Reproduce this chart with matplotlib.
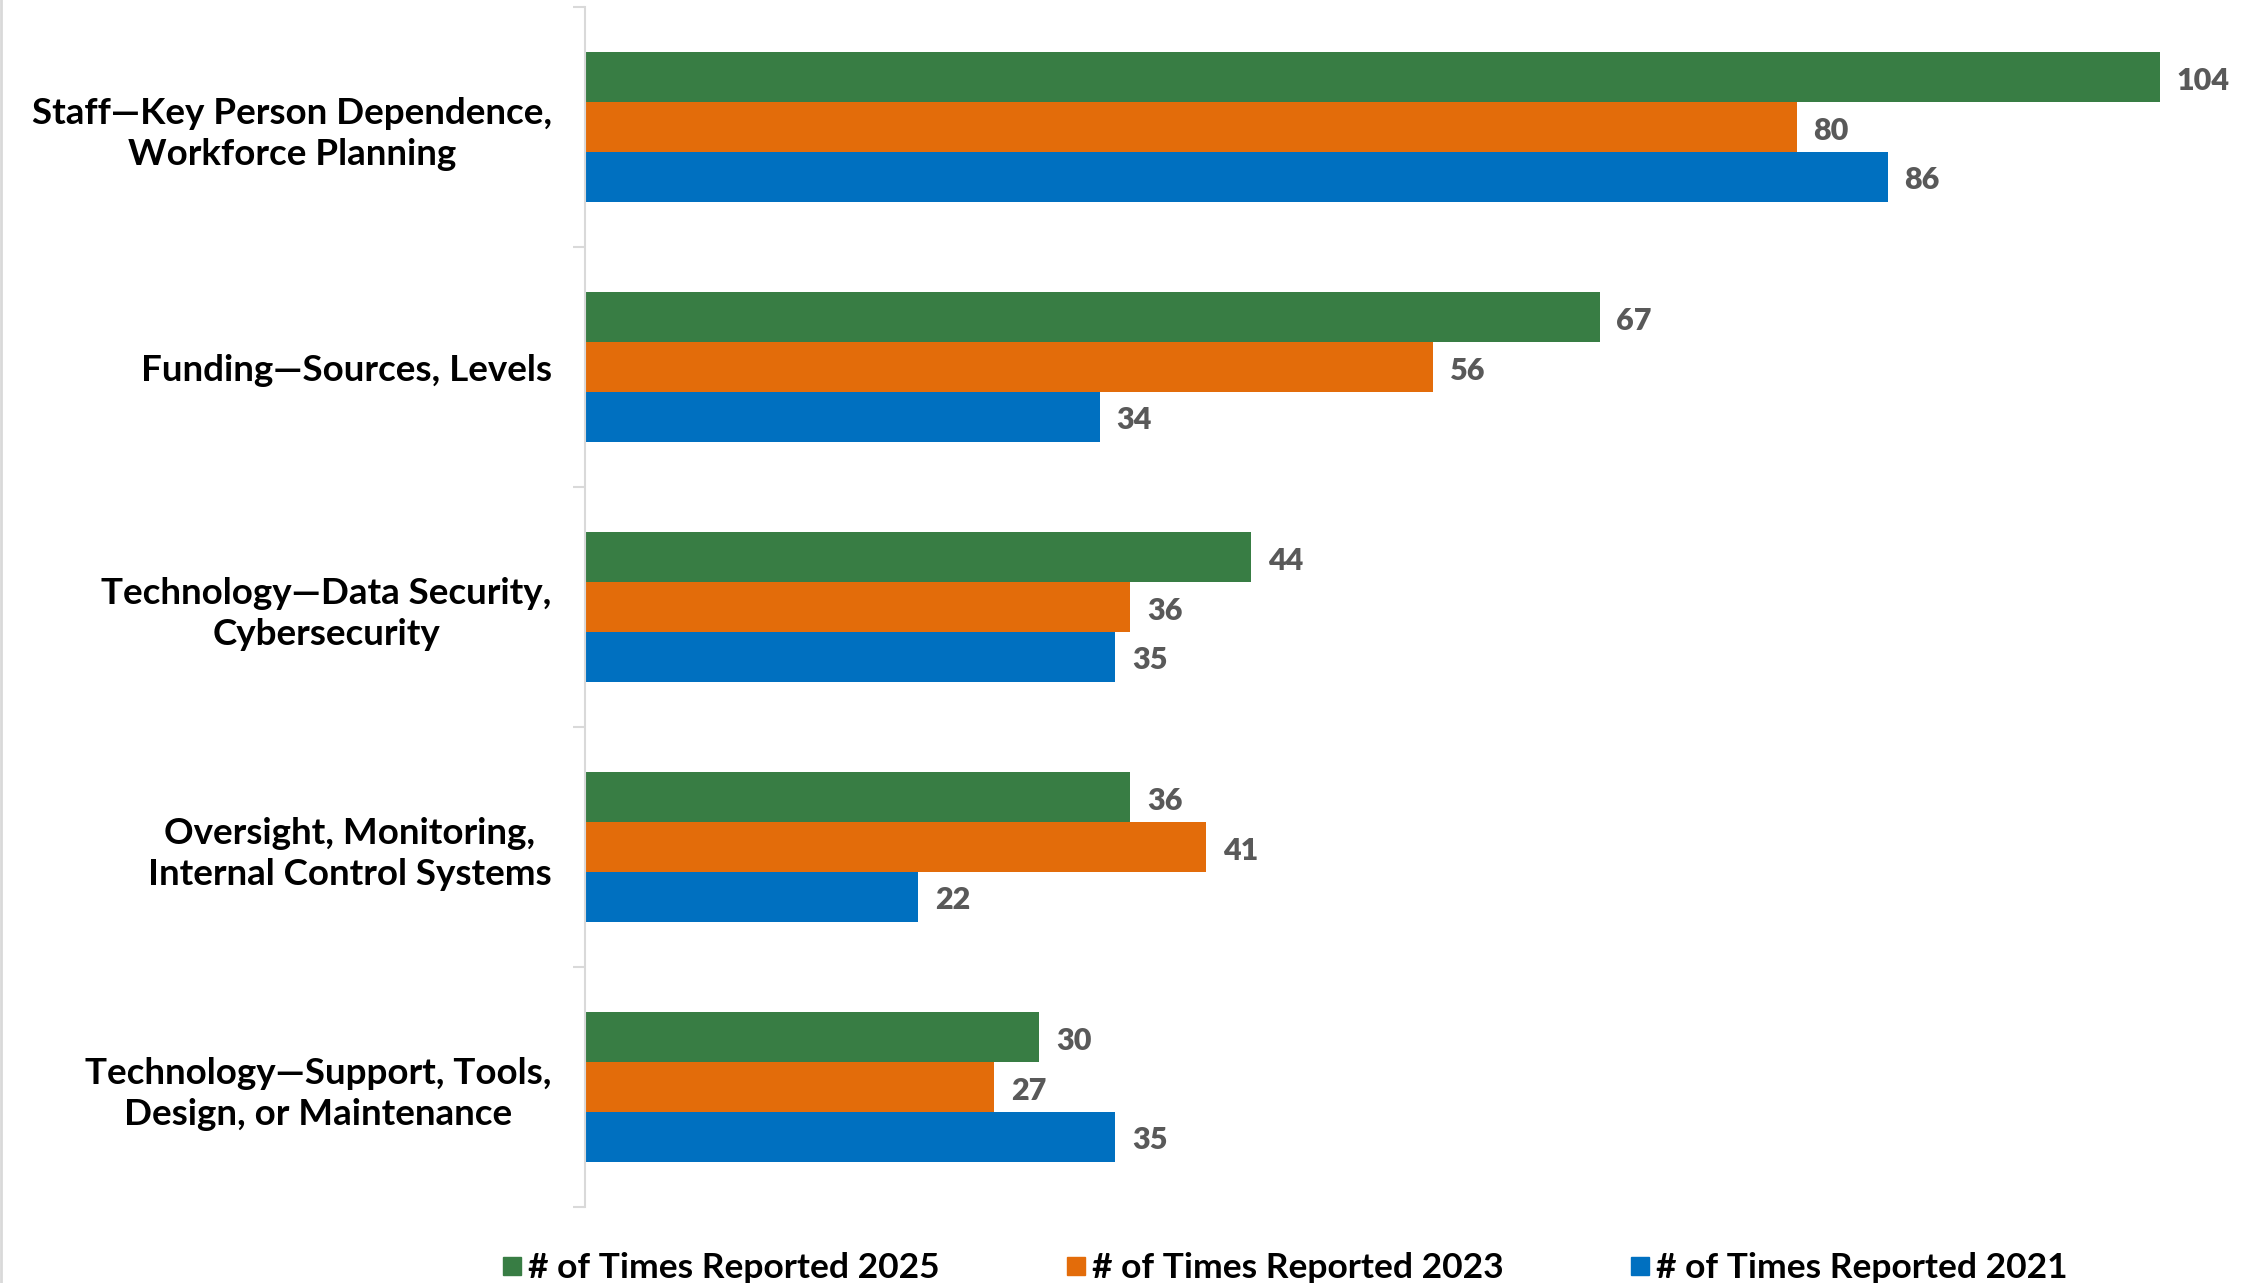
import matplotlib
matplotlib.use("Agg")
import matplotlib.pyplot as plt
import numpy as np
from matplotlib.lines import Line2D

plt.rcParams['font.family'] = ['Lato', 'DejaVu Sans']

# data
categories = ["Staff\u2014Key Person Dependence,\nWorkforce Planning",
              "Funding\u2014Sources, Levels",
              "Technology\u2014Data Security,\nCybersecurity",
              "Oversight, Monitoring,\nInternal Control Systems",
              "Technology\u2014Support, Tools,\nDesign, or Maintenance"]
reported_2025 = [104, 67, 44, 36, 30]
reported_2023 = [80, 56, 36, 41, 27]
reported_2021 = [86, 34, 35, 22, 35]
series_names = ["# of Times Reported 2025", "# of Times Reported 2023", "# of Times Reported 2021"]
colors = ["#387D44", "#E36C0A", "#0070C0"]

fig = plt.figure(figsize=(22.45, 12.83), dpi=100)
ax = fig.add_axes([0.2606, 0.0592, 0.7394, 0.9353])

y = np.arange(len(categories))
h = 0.208
for i, (vals, name, c) in enumerate(zip([reported_2025, reported_2023, reported_2021], series_names, colors)):
    bars = ax.barh(y + (i - 1) * h, vals, height=h, color=c, label=name)
    for b, v in zip(bars, vals):
        ax.annotate(str(v), (b.get_width(), b.get_y() + b.get_height() / 2),
                    xytext=(12, -2.5), textcoords="offset points", va="center", ha="left",
                    fontsize=22, fontweight="heavy", color="#595959", annotation_clip=False)

ax.set_xlim(0, 109.6)
ax.set_ylim(4.5, -0.5)
ax.set_xticks([])
ax.set_yticks(y)
ax.set_yticklabels(categories, fontsize=26.5, fontweight="bold", multialignment="center",
                   linespacing=1.3)
ax.set_yticks(np.arange(-0.5, 5, 1), minor=True)
ax.tick_params(axis="y", which="major", length=0, pad=24)
ax.tick_params(axis="y", which="minor", length=9, color="#D9D9D9", width=1.5)
for s in ["top", "right", "bottom"]:
    ax.spines[s].set_visible(False)
ax.spines["left"].set_color("#D9D9D9")
ax.spines["left"].set_linewidth(1.5)

fig.add_artist(Line2D([0.0005, 0.0005], [0, 1], color="#D9D9D9", lw=2))

handles = [Line2D([], [], marker="s", linestyle="none", markersize=13, color=c) for c in colors]
fig.legend(handles, series_names, loc="lower center", bbox_to_anchor=(0.571, -0.026), ncol=3,
           frameon=False, columnspacing=3.4, handletextpad=0.0, handlelength=0.9,
           prop={"weight": "bold", "size": 25.5})

fig.savefig("out.png", dpi=100)
